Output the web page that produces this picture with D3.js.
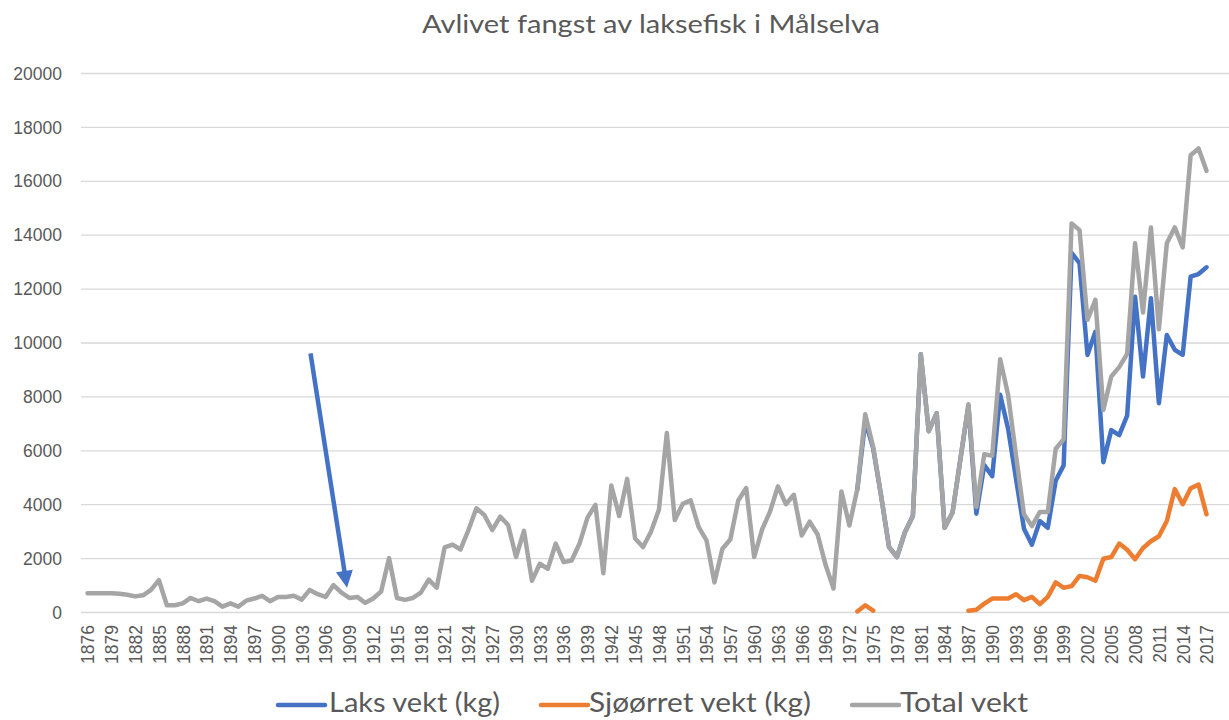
<!DOCTYPE html>
<html>
<head>
<meta charset="utf-8">
<script src="https://cdn.jsdelivr.net/npm/d3@7"></script>
<style>
  html, body { margin: 0; padding: 0; background: #ffffff; }
  svg { display: block; }
</style>
</head>
<body>
<svg id="chart" width="1229" height="720"></svg>
<script>
// Fangst i Målselva, kg per år (1876–2017)
const years = d3.range(1876, 2018);

const totalVekt = [
  700, 700, 700, 700, 680, 640, 580, 620, 820, 1180,      // 1876–1885
  250, 250, 320, 520, 400, 500, 400, 200, 320, 200,       // 1886–1895
  420, 500, 600, 400, 560, 560, 600, 460, 820, 660,       // 1896–1905
  560, 1000, 720, 520, 560, 340, 500, 760, 2000, 520,     // 1906–1915
  450, 520, 720, 1200, 900, 2400, 2500, 2320, 3040, 3850, // 1916–1925
  3600, 3040, 3540, 3230, 2040, 3010, 1160, 1790, 1600, 2540, // 1926–1935
  1850, 1910, 2540, 3500, 3975, 1440, 4690, 3560, 4940, 2725, // 1936–1945
  2410, 2975, 3790, 6640, 3410, 4010, 4140, 3160, 2660, 1100, // 1946–1955
  2350, 2690, 4140, 4600, 2040, 3060, 3725, 4660, 4000, 4350, // 1956–1965
  2840, 3350, 2875, 1750, 870, 4470, 3210, 4560, 7340, 6125,  // 1966–1975
  4310, 2410, 2040, 2960, 3560, 9560, 6710, 7375, 3125, 3690, // 1976–1985
  5690, 7710, 3900, 5850, 5800, 9375, 8060, 5810, 3625, 3190, // 1986–1995
  3710, 3710, 6060, 6410, 14420, 14170, 10840, 11580, 7500, 8740, // 1996–2005
  9085, 9580, 13680, 11110, 14270, 10490, 13680, 14270, 13530, 16950, // 2006–2015
  17200, 16370                                              // 2016–2017
];

// Laks og sjøørret er registrert fra 1973
const laksYears = d3.range(1973, 2018);
const laksVekt = [
  4540, 7090, 6075, 4310, 2410, 2040, 2960, 3560, 9560, 6710, // 1973–1982
  7375, 3125, 3690, 5690, 7660, 3650, 5450, 5040, 8060, 6800, // 1983–1992
  4940, 3090, 2500, 3375, 3125, 4875, 5440, 13330, 12940, 9540, // 1993–2002
  10400, 5560, 6750, 6560, 7290, 11700, 8740, 11640, 7750, 10280, // 2003–2012
  9730, 9540, 12440, 12540, 12790                            // 2013–2017
];

const sjoYears = d3.range(1973, 2018);
const sjoorretVekt = [
  20, 250, 50, null, null, null, null, null, null, null,      // 1973–1982
  null, null, null, null, 50, 80, 310, 500, 500, 500,         // 1983–1992
  660, 440, 560, 290, 560, 1100, 900, 960, 1340, 1290,        // 1993–2002
  1160, 1975, 2040, 2540, 2310, 1960, 2375, 2625, 2810, 3375, // 2003–2012
  4560, 4000, 4590, 4725, 3625                                // 2013–2017
];

const yTicks = [0, 2000, 4000, 6000, 8000, 10000, 12000, 14000, 16000, 18000, 20000];
const xTickLabels = d3.range(1876, 2018, 3);

const seriesNames = ["Laks vekt (kg)", "Sjøørret vekt (kg)", "Total vekt"];
const seriesColors = ["#4472C4", "#ED7D31", "#A5A5A5"];

// Pil fra 1904 ned mot 1909
const arrowFrom = { year: 1904.1, value: 9600 };
const arrowTo = { year: 1908.7, value: 900 };

const svg = d3.select("#chart");

const x = d3.scalePoint().domain(years).range([87.5, 1206.5]);
const xNum = yr => x(1876) + (yr - 1876) * x.step();
const y = d3.scaleLinear().domain([0, 20000]).range([612, 73]);

const gridLeft = 81, gridRight = 1229;

// Rutenett
svg.append("g")
  .selectAll("line")
  .data(yTicks)
  .join("line")
  .attr("x1", gridLeft).attr("x2", gridRight)
  .attr("y1", d => y(d) + 0.5).attr("y2", d => y(d) + 0.5)
  .attr("stroke", "#D9D9D9")
  .attr("stroke-width", 1.3);

// Y-akse
const yAxis = d3.axisLeft(y).tickValues(yTicks).tickSize(0).tickPadding(0).tickFormat(d3.format("d"));
svg.append("g")
  .attr("transform", "translate(62,0)")
  .call(yAxis)
  .call(g => g.select(".domain").remove())
  .call(g => g.selectAll("text")
    .attr("fill", "#595959")
    .attr("font-family", "'Liberation Sans', Arial, sans-serif")
    .attr("font-size", 17.5)
    .attr("dy", "0.35em"));

// X-akse (roterte årstall)
const xAxis = d3.axisBottom(x).tickValues(xTickLabels).tickSize(0).tickPadding(0);
svg.append("g")
  .attr("transform", "translate(0,612)")
  .call(xAxis)
  .call(g => g.select(".domain").remove())
  .call(g => g.selectAll("text")
    .attr("fill", "#595959")
    .attr("font-family", "'Liberation Sans', Arial, sans-serif")
    .attr("font-size", 17.5)
    .attr("text-anchor", "end")
    .attr("transform", "translate(0,13) rotate(-90)")
    .attr("x", 0)
    .attr("y", 0)
    .attr("dy", "0.36em"));

// Linjer
const line = d3.line()
  .defined(d => d.v != null)
  .x(d => x(d.year))
  .y(d => y(d.v));

const laksData = laksYears.map((yr, i) => ({ year: yr, v: laksVekt[i] }));
const sjoData = sjoYears.map((yr, i) => ({ year: yr, v: sjoorretVekt[i] }));
const totalData = years.map((yr, i) => ({ year: yr, v: totalVekt[i] }));

[laksData, sjoData, totalData].forEach((data, i) => {
  svg.append("path")
    .datum(data)
    .attr("fill", "none")
    .attr("stroke", seriesColors[i])
    .attr("stroke-width", 4.5)
    .attr("stroke-linejoin", "round")
    .attr("stroke-linecap", "round")
    .attr("d", line);
});

// Pil
const ax1 = xNum(arrowFrom.year), ay1 = y(arrowFrom.value);
const ax2 = xNum(arrowTo.year), ay2 = y(arrowTo.value);
const ang = Math.atan2(ay2 - ay1, ax2 - ax1);
const headLen = 17, headHalf = 8.5;
const bx = ax2 - headLen * Math.cos(ang), by = ay2 - headLen * Math.sin(ang);
svg.append("line")
  .attr("x1", ax1).attr("y1", ay1)
  .attr("x2", bx + 2 * Math.cos(ang)).attr("y2", by + 2 * Math.sin(ang))
  .attr("stroke", "#4472C4")
  .attr("stroke-width", 4.5);
svg.append("path")
  .attr("d", d3.line()([
    [ax2, ay2],
    [bx + headHalf * Math.sin(ang), by - headHalf * Math.cos(ang)],
    [bx - headHalf * Math.sin(ang), by + headHalf * Math.cos(ang)]
  ]) + "Z")
  .attr("fill", "#4472C4");

// Tittel
svg.append("text")
  .attr("x", 651).attr("y", 33)
  .attr("text-anchor", "middle")
  .attr("fill", "#595959")
  .attr("font-family", "Lato, 'Open Sans', sans-serif")
  .attr("font-size", 25)
  .attr("textLength", 458)
  .attr("lengthAdjust", "spacingAndGlyphs")
  .text("Avlivet fangst av laksefisk i Målselva");

// Tegnforklaring
const legendItems = [
  { name: seriesNames[0], color: seriesColors[0], x0: 278, tx: 329, w: 171 },
  { name: seriesNames[1], color: seriesColors[1], x0: 541, tx: 589, w: 222 },
  { name: seriesNames[2], color: seriesColors[2], x0: 852, tx: 900, w: 128 }
];
const lg = svg.append("g");
legendItems.forEach(it => {
  lg.append("line")
    .attr("x1", it.x0).attr("x2", it.x0 + 47)
    .attr("y1", 705).attr("y2", 705)
    .attr("stroke", it.color)
    .attr("stroke-width", 4.5)
    .attr("stroke-linecap", "round");
  lg.append("text")
    .attr("x", it.tx).attr("y", 712)
    .attr("fill", "#595959")
    .attr("font-family", "Lato, 'Open Sans', sans-serif")
    .attr("font-size", 26)
    .attr("textLength", it.w)
    .attr("lengthAdjust", "spacingAndGlyphs")
    .text(it.name);
});
</script>
</body>
</html>
